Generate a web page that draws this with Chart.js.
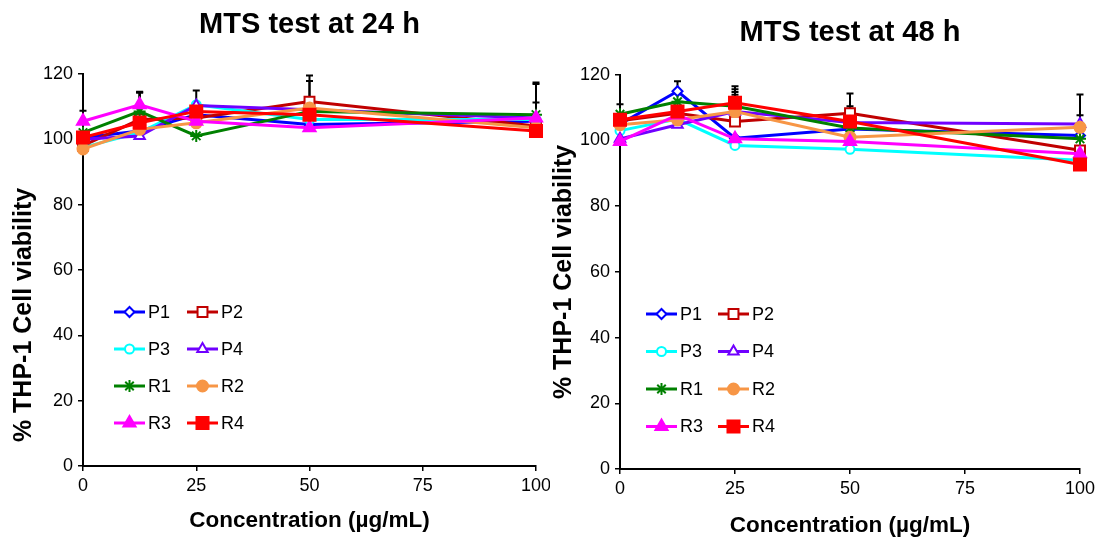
<!DOCTYPE html>
<html>
<head>
<meta charset="utf-8">
<script src="https://cdn.jsdelivr.net/npm/chart.js@4.4.0/dist/chart.umd.min.js"></script>
<style>
  html, body { margin: 0; padding: 0; background: #fff; }
  #wrap { display: flex; width: 1101px; height: 537px; }
  canvas { display: block; }
</style>
</head>
<body>
<div id="wrap">
  <canvas id="chart24" width="550" height="537"></canvas>
  <canvas id="chart48" width="551" height="537"></canvas>
</div>
<script>
// x values (µg/mL)
var concentrations = [0, 12.5, 25, 50, 100];
var seriesNames = ['P1', 'P2', 'P3', 'P4', 'R1', 'R2', 'R3', 'R4'];
var xTicks = [0, 25, 50, 75, 100];
var yTicks = [0, 20, 40, 60, 80, 100, 120];

// 24 h viability (%)
var p1_24 = [100.5, 102.5, 107.5, 104.5, 105.5];
var p2_24 = [98, 106, 106.5, 111.5, 104];
var p3_24 = [97.5, 102, 110.5, 106, 106];
var p4_24 = [100, 101, 110.3, 109, 106.5];
var r1_24 = [102, 108.5, 101, 108.5, 107.5];
var r2_24 = [97, 103, 105, 109.5, 103.5];
var r3_24 = [105.5, 110.5, 105.5, 103.5, 106.5];
var r4_24 = [100.5, 105, 108.5, 107.5, 102.5];

// 24 h upper error (0 = hidden behind marker)
var p1_24err = [0, 0, 0, 0, 0];
var p2_24err = [0, 0, 0, 8, 0];
var p3_24err = [0, 0, 0, 0, 0];
var p4_24err = [0, 0, 4.6, 0, 0];
var r1_24err = [0, 5.8, 0, 0, 9.8];
var r2_24err = [0, 0, 0, 8.3, 0];
var r3_24err = [0, 4, 0, 0, 10.4];
var r4_24err = [8.2, 9.3, 0, 0, 8.7];

// 48 h viability (%)
var p1_48 = [105, 115, 100.7, 103.5, 101.5];
var p2_48 = [106, 108.3, 105.8, 108.3, 97];
var p3_48 = [103, 106.5, 98.5, 97.3, 94];
var p4_48 = [100.5, 104.8, 108.8, 105.5, 105];
var r1_48 = [108, 111.8, 110.4, 103.8, 100.5];
var r2_48 = [104.8, 106.3, 108.8, 101, 104];
var r3_48 = [99.7, 107.8, 100.5, 99.7, 96];
var r4_48 = [106.3, 108.8, 111.5, 105.8, 92.7];

// 48 h upper error
var p1_48err = [0, 3, 0, 0, 0];
var p2_48err = [0, 0, 0, 6, 0];
var p3_48err = [0, 0, 0, 0, 0];
var p4_48err = [0, 0, 5.1, 0, 9];
var r1_48err = [3, 0, 5.2, 0, 0];
var r2_48err = [0, 0, 6, 0, 3.7];
var r3_48err = [0, 0, 0, 0, 0];
var r4_48err = [0, 0, 5, 4.6, 0];

var FONT = '"Liberation Sans", Arial, sans-serif';

var styles = {
    P1: { color: '#0000FF', point: 'rectRot', fill: '#FFFFFF', radius: 5 },
    P2: { color: '#C00000', point: 'rect', fill: '#FFFFFF', radius: 7 },
    P3: { color: '#00FFFF', point: 'circle', fill: '#FFFFFF', radius: 4.5 },
    P4: { color: '#7000FF', point: 'triangle', fill: '#FFFFFF', radius: 6 },
    R1: { color: '#008000', point: 'star', fill: '#008000', radius: 6 },
    R2: { color: '#F79646', point: 'circle', fill: '#F79646', radius: 5.5 },
    R3: { color: '#FF00FF', point: 'triangle', fill: '#FF00FF', radius: 7 },
    R4: { color: '#FF0000', point: 'rect', fill: '#FF0000', radius: 8.5 }
};

function toPoints(values) {
    return values.map(function(v, i) { return { x: concentrations[i], y: v }; });
}

function buildDatasets(valueLists, errLists) {
    return seriesNames.map(function(name, k) {
        var s = styles[name];
        return {
            label: name,
            data: toPoints(valueLists[k]),
            errors: errLists[k],
            order: seriesNames.length - k, // later series on top (R4 last)
            borderColor: s.color,
            backgroundColor: s.color,
            borderWidth: 3,
            pointStyle: s.point,
            pointRadius: s.radius,
            pointHoverRadius: s.radius,
            pointBackgroundColor: s.fill,
            pointBorderColor: s.color,
            pointBorderWidth: 2,
            tension: 0,
            clip: false
        };
    });
}

// black upward error bars
var errorBarPlugin = {
    id: 'errorBars',
    beforeDatasetsDraw: function(chart) {
        var ctx = chart.ctx;
        var xs = chart.scales.x, ys = chart.scales.y;
        ctx.save();
        ctx.strokeStyle = '#000';
        ctx.lineWidth = 2;
        chart.data.datasets.forEach(function(ds) {
            ds.data.forEach(function(p, j) {
                var e = ds.errors[j];
                if (!e) return;
                var px = xs.getPixelForValue(p.x);
                var y0 = ys.getPixelForValue(p.y);
                var y1 = ys.getPixelForValue(p.y + e);
                ctx.beginPath();
                ctx.moveTo(px, y0);
                ctx.lineTo(px, y1);
                ctx.moveTo(px - 3.5, y1);
                ctx.lineTo(px + 3.5, y1);
                ctx.stroke();
            });
        });
        ctx.restore();
    }
};

// two-column legend drawn inside the plot, plus the rotated y title
var innerLegendPlugin = {
    id: 'innerLegend',
    afterDraw: function(chart, args, opts) {
        var ctx = chart.ctx;
        var area = chart.chartArea;
        ctx.save();
        ctx.font = '18px ' + FONT;
        ctx.textBaseline = 'middle';
        chart.data.datasets.forEach(function(ds, i) {
            var col = i % 2, row = Math.floor(i / 2);
            var x0 = area.left + opts.left + col * opts.colGap;
            var y = opts.top + row * opts.rowGap;
            ctx.strokeStyle = ds.borderColor;
            ctx.lineWidth = 3;
            ctx.beginPath();
            ctx.moveTo(x0, y);
            ctx.lineTo(x0 + 31, y);
            ctx.stroke();
            ctx.fillStyle = ds.pointBackgroundColor;
            ctx.strokeStyle = ds.pointBorderColor;
            ctx.lineWidth = ds.pointBorderWidth;
            Chart.helpers.drawPoint(ctx, {
                pointStyle: ds.pointStyle,
                radius: ds.pointRadius,
                rotation: 0,
                borderWidth: ds.pointBorderWidth
            }, x0 + 15.5, y);
            ctx.fillStyle = '#000';
            ctx.fillText(ds.label, x0 + 34, y + 1);
        });

        // y axis title (sits lower than the plot centre in the original)
        ctx.translate(opts.yTitleX, opts.yTitleY);
        ctx.rotate(-Math.PI / 2);
        ctx.font = 'bold 25px ' + FONT;
        ctx.textAlign = 'center';
        ctx.fillStyle = '#000';
        ctx.fillText('% THP-1 Cell viability', 0, 0);
        ctx.restore();
    }
};

function makeChart(id, title, valueLists, errLists, lay) {
    var ctx = document.getElementById(id).getContext('2d');
    return new Chart(ctx, {
        type: 'line',
        data: { datasets: buildDatasets(valueLists, errLists) },
        plugins: [errorBarPlugin, innerLegendPlugin],
        options: {
            responsive: false,
            animation: false,
            layout: { padding: { left: lay.padLeft, right: lay.padRight, top: 0, bottom: 0 } },
            plugins: {
                legend: { display: false },
                tooltip: { enabled: false },
                title: {
                    display: true,
                    text: title,
                    fullSize: false,
                    color: '#000',
                    font: { family: FONT, size: 29, weight: 'bold' },
                    padding: { top: lay.titleTop, bottom: lay.titleBottom }
                },
                innerLegend: lay.legend
            },
            scales: {
                x: {
                    type: 'linear',
                    min: 0,
                    max: 100,
                    afterBuildTicks: function(s) { s.ticks = xTicks.map(function(v) { return { value: v }; }); },
                    afterFit: function(s) {
                        s.height = lay.xHeight;
                        s.paddingLeft = 0;
                        s.paddingRight = 0;
                    },
                    grid: { drawOnChartArea: false, drawTicks: true, tickLength: 5, color: '#000', lineWidth: 1.5 },
                    border: { display: true, color: '#000', width: 2 },
                    ticks: { color: '#000', padding: 4, maxRotation: 0, font: { family: FONT, size: 18 } },
                    title: {
                        display: true,
                        text: 'Concentration (µg/mL)',
                        color: '#000',
                        font: { family: FONT, size: 22.5, weight: 'bold' },
                        padding: { top: 0, bottom: lay.xTitleBottom }
                    }
                },
                y: {
                    min: 0,
                    max: 120,
                    afterBuildTicks: function(s) { s.ticks = yTicks.map(function(v) { return { value: v }; }); },
                    afterFit: function(s) { s.width = lay.yWidth; },
                    grid: { drawOnChartArea: false, drawTicks: true, tickLength: 5, color: '#000', lineWidth: 1.5 },
                    border: { display: true, color: '#000', width: 2 },
                    ticks: { color: '#000', padding: 5, font: { family: FONT, size: 18 } }
                }
            }
        }
    });
}

makeChart('chart24', 'MTS test at 24 h',
    [p1_24, p2_24, p3_24, p4_24, r1_24, r2_24, r3_24, r4_24],
    [p1_24err, p2_24err, p3_24err, p4_24err, r1_24err, r2_24err, r3_24err, r4_24err],
    { padLeft: 8, padRight: 14, yWidth: 75, xHeight: 71, titleTop: 8, titleBottom: 31,
      xTitleBottom: 3,
      legend: { left: 31, colGap: 73, top: 312, rowGap: 37, yTitleX: 24, yTitleY: 315 } });

makeChart('chart48', 'MTS test at 48 h',
    [p1_48, p2_48, p3_48, p4_48, r1_48, r2_48, r3_48, r4_48],
    [p1_48err, p2_48err, p3_48err, p4_48err, r1_48err, r2_48err, r3_48err, r4_48err],
    { padLeft: 0, padRight: 21, yWidth: 70, xHeight: 68, titleTop: 16, titleBottom: 24,
      xTitleBottom: -2,
      legend: { left: 26, colGap: 72, top: 314, rowGap: 37.5, yTitleX: 14, yTitleY: 272 } });
</script>
</body>
</html>
